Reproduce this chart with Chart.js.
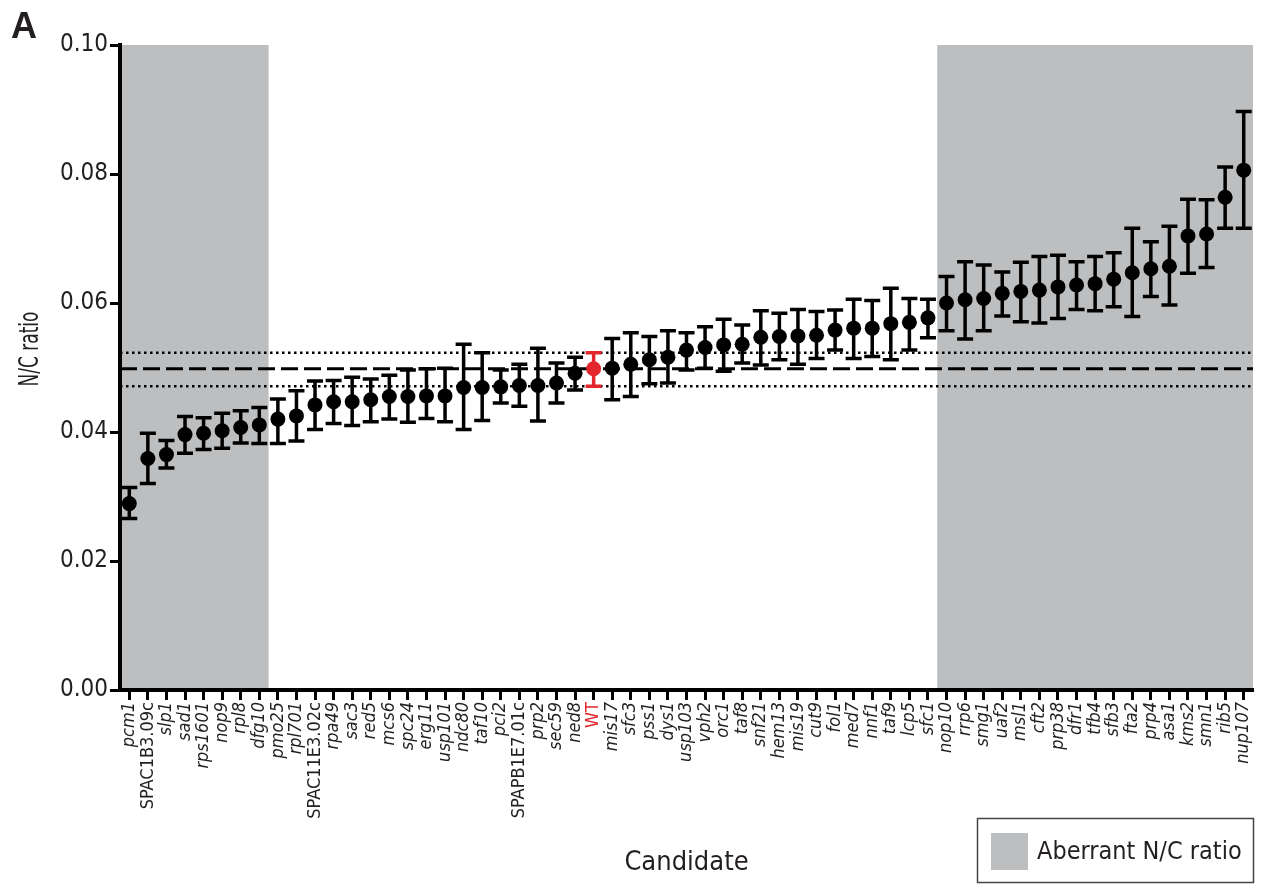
<!DOCTYPE html>
<html><head><meta charset="utf-8">
<script src="https://cdn.jsdelivr.net/npm/chart.js@4.4.1/dist/chart.umd.min.js"></script>
<style>html,body{margin:0;padding:0;background:#fff;}#wrap{width:1264px;height:884px;position:relative;}</style>
</head><body><div id="wrap"><canvas id="c" width="1264" height="884"></canvas></div>
<script>
const categories = ['pcm1','SPAC1B3.09c','slp1','sad1','rps1601','nop9','rpl8','dfg10','pmo25','rpl701','SPAC11E3.02c','rpa49','sac3','red5','mcs6','spc24','erg11','usp101','ndc80','taf10','pci2','SPAPB1E7.01c','prp2','sec59','ned8','WT','mis17','sfc3','pss1','dys1','usp103','vph2','orc1','taf8','snf21','hem13','mis19','cut9','fol1','med7','nnf1','taf9','lcp5','sfc1','nop10','rrp6','smg1','uaf2','msl1','cft2','prp38','dfr1','tfb4','sfb3','fta2','prp4','asa1','kms2','smn1','rib5','nup107'];
const means = [0.0289,0.0359,0.0365,0.0396,0.0398,0.0402,0.0407,0.0411,0.0420,0.0425,0.0442,0.0447,0.0447,0.0450,0.0455,0.0455,0.0456,0.0456,0.0469,0.0469,0.0470,0.0472,0.0472,0.0476,0.0491,0.0498,0.0499,0.0505,0.0512,0.0516,0.0527,0.0531,0.0535,0.0536,0.0547,0.0548,0.0549,0.0550,0.0558,0.0561,0.0561,0.0568,0.0570,0.0577,0.0600,0.0605,0.0607,0.0615,0.0618,0.0620,0.0625,0.0628,0.0630,0.0637,0.0647,0.0653,0.0657,0.0704,0.0707,0.0764,0.0806];
const lowerBounds = [0.0266,0.0320,0.0344,0.0367,0.0373,0.0375,0.0383,0.0382,0.0382,0.0386,0.0404,0.0413,0.0410,0.0416,0.0420,0.0415,0.0421,0.0416,0.0404,0.0418,0.0445,0.0440,0.0417,0.0445,0.0465,0.0471,0.0450,0.0455,0.0475,0.0476,0.0496,0.0499,0.0494,0.0507,0.0504,0.0512,0.0505,0.0514,0.0527,0.0514,0.0517,0.0512,0.0527,0.0546,0.0557,0.0544,0.0557,0.0580,0.0571,0.0569,0.0576,0.0590,0.0588,0.0594,0.0579,0.0610,0.0597,0.0646,0.0655,0.0716,0.0716];
const upperBounds = [0.0314,0.0398,0.0387,0.0424,0.0422,0.0429,0.0433,0.0438,0.0451,0.0464,0.0479,0.0480,0.0485,0.0482,0.0488,0.0496,0.0498,0.0499,0.0536,0.0523,0.0496,0.0505,0.0530,0.0507,0.0516,0.0523,0.0545,0.0554,0.0548,0.0557,0.0554,0.0563,0.0575,0.0566,0.0588,0.0584,0.0590,0.0587,0.0589,0.0606,0.0604,0.0623,0.0607,0.0606,0.0641,0.0664,0.0659,0.0648,0.0663,0.0672,0.0674,0.0664,0.0672,0.0678,0.0716,0.0695,0.0719,0.0761,0.0760,0.0811,0.0897];
const yTickValues = [0, 0.02, 0.04, 0.06, 0.08, 0.10];
const aberrantRanges = [['pcm1','dfg10'], ['nop10','nup107']];
const uprightLabels = ['SPAC1B3.09c','SPAC11E3.02c','SPAPB1E7.01c','WT'];
const referenceLabel = 'WT';
const legendLabel = 'Aberrant N/C ratio';
const yTitle = 'N/C ratio';
const xTitle = 'Candidate';

const NARROW = "'Liberation Sans Narrow','DejaVu Sans Condensed','Arial Narrow',sans-serif";
const GREY = '#bcbec0';
const RED = '#e2262b';
const TXT = '#231f20';
const refIdx = categories.indexOf(referenceLabel);

const decor = {
  id: 'decor',
  beforeDraw(chart) {
    const {ctx, chartArea: a, scales: {x, y}} = chart;
    const half = (x.getPixelForValue(1) - x.getPixelForValue(0)) / 2;
    ctx.save();
    ctx.fillStyle = GREY;
    aberrantRanges.forEach(([s, e]) => {
      const x0 = Math.max(a.left, x.getPixelForValue(categories.indexOf(s)) - half);
      const x1 = Math.min(a.right, x.getPixelForValue(categories.indexOf(e)) + half);
      const yt = y.getPixelForValue(y.max);
      ctx.fillRect(x0, yt, x1 - x0, a.bottom - yt);
    });
    ctx.restore();
  },
  beforeDatasetsDraw(chart) {
    const {ctx, chartArea: a, scales: {x, y}} = chart;
    ctx.save();
    ctx.strokeStyle = '#000';
    ctx.lineWidth = 3;
    ctx.setLineDash([17, 6]);
    const yy = y.getPixelForValue(means[refIdx]);
    ctx.beginPath(); ctx.moveTo(a.left, yy); ctx.lineTo(a.right, yy); ctx.stroke();
    ctx.lineWidth = 2.5;
    ctx.setLineDash([2.5, 3.5]);
    [lowerBounds[refIdx], upperBounds[refIdx]].forEach(v => {
      const p = y.getPixelForValue(v);
      ctx.beginPath(); ctx.moveTo(a.left, p); ctx.lineTo(a.right, p); ctx.stroke();
    });
    ctx.setLineDash([]);
    ctx.lineWidth = 3.5;
    categories.forEach((c, i) => {
      const px = x.getPixelForValue(i);
      const lo = y.getPixelForValue(lowerBounds[i]);
      const hi = y.getPixelForValue(upperBounds[i]);
      ctx.strokeStyle = i === refIdx ? RED : '#000';
      ctx.beginPath();
      ctx.moveTo(px, lo); ctx.lineTo(px, hi);
      ctx.moveTo(px - 8, lo); ctx.lineTo(px + 8, lo);
      ctx.moveTo(px - 8, hi); ctx.lineTo(px + 8, hi);
      ctx.stroke();
    });
    ctx.restore();
  },
  afterDraw(chart) {
    const {ctx} = chart;
    ctx.save();
    ctx.fillStyle = TXT;
    ctx.font = "bold 36px 'Liberation Sans',Arial,sans-serif";
    ctx.textBaseline = 'alphabetic';
    ctx.fillText('A', 11, 38);
    // y axis title (condensed like the original)
    ctx.save();
    ctx.translate(31, 349);
    ctx.rotate(-Math.PI / 2);
    ctx.scale(0.7, 1);
    ctx.font = '27px ' + NARROW;
    ctx.textAlign = 'center';
    ctx.textBaseline = 'middle';
    ctx.fillText(yTitle, 0, 0);
    ctx.restore();
    // legend
    ctx.strokeStyle = '#444';
    ctx.lineWidth = 1.5;
    ctx.strokeRect(977.5, 818.5, 276, 64);
    ctx.fillStyle = GREY;
    ctx.fillRect(991, 833, 37, 37);
    ctx.fillStyle = TXT;
    ctx.font = '25px ' + NARROW;
    ctx.textBaseline = 'middle';
    ctx.textAlign = 'left';
    ctx.fillText(legendLabel, 1037, 852);
    ctx.restore();
  }
};

new Chart(document.getElementById('c'), {
  type: 'line',
  data: {
    labels: categories,
    datasets: [{
      data: means,
      showLine: false,
      pointRadius: 7.5,
      pointHoverRadius: 7.5,
      pointBorderWidth: 0,
      pointBackgroundColor: categories.map(c => c === referenceLabel ? RED : '#000'),
      pointBorderColor: categories.map(c => c === referenceLabel ? RED : '#000')
    }]
  },
  options: {
    responsive: false,
    devicePixelRatio: 1,
    animation: false,
    events: [],
    layout: {padding: {left: 0, right: 11, top: 45, bottom: 0}},
    plugins: {legend: {display: false}, tooltip: {enabled: false}},
    scales: {
      x: {
        type: 'category',
        offset: true,
        afterFit: s => { s.height = 194; s.paddingLeft = 0; s.paddingRight = 0; },
        border: {display: true, color: '#000', width: 4},
        grid: {display: true, drawOnChartArea: false, offset: false, drawTicks: true, tickLength: 10, tickWidth: 3, tickColor: '#000'},
        ticks: {
          autoSkip: false, maxRotation: 90, minRotation: 90, padding: 2,
          color: ctx => categories[ctx.index] === referenceLabel ? RED : TXT,
          font: ctx => ({family: NARROW, size: 18, style: uprightLabels.includes(categories[ctx.index]) ? 'normal' : 'italic'})
        },
        title: {display: true, text: xTitle, color: TXT, font: {family: NARROW, size: 27}, padding: {top: 0, bottom: 5}}
      },
      y: {
        min: 0, max: 0.1,
        afterFit: s => { s.width = 120; },
        afterBuildTicks: s => { s.ticks = yTickValues.map(v => ({value: v})); },
        border: {display: true, color: '#000', width: 4},
        grid: {display: true, drawOnChartArea: false, drawTicks: true, tickLength: 10, tickWidth: 3, tickColor: '#000'},
        ticks: {padding: 2, color: TXT, font: {family: NARROW, size: 24}, callback: v => Number(v).toFixed(2)}
      }
    }
  },
  plugins: [decor]
});
</script></body></html>
